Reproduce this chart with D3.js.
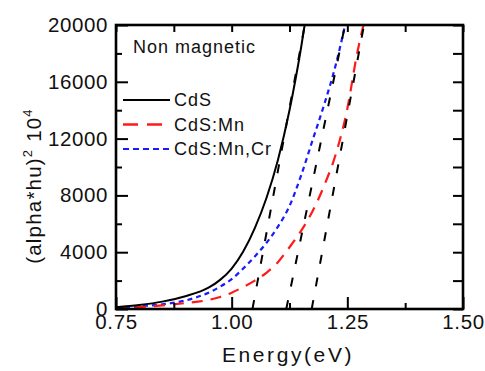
<!DOCTYPE html>
<html>
<head>
<meta charset="utf-8">
<script src="https://cdn.jsdelivr.net/npm/d3@7"></script>
<style>
    html, body { margin: 0; padding: 0; background: #fff; }
    svg { display: block; font-family: "Liberation Sans", Arial, sans-serif; }
</style>
</head>
<body>
<div id="chart-div"></div>
<script>
// energy (eV) and (alpha*hu)^2 values
var energyCdS   = [0.75, 0.80, 0.85, 0.90, 0.95, 0.975, 1.00, 1.025, 1.05, 1.075, 1.10, 1.125, 1.15, 1.165];
var valuesCdS   = [120, 280, 520, 900, 1500, 2050, 2850, 4050, 5700, 7800, 10500, 14000, 18400, 21500];

var energyMn    = [0.75, 0.80, 0.85, 0.90, 0.95, 0.975, 1.00, 1.025, 1.05, 1.075, 1.10, 1.125, 1.15, 1.175, 1.20, 1.225, 1.25, 1.27, 1.29];
var valuesMn    = [60, 130, 250, 420, 640, 850, 1150, 1550, 2000, 2550, 3300, 4350, 5500, 6900, 8700, 10900, 14100, 17800, 20700];

var energyMnCr  = [0.75, 0.80, 0.85, 0.90, 0.95, 0.975, 1.00, 1.025, 1.05, 1.075, 1.10, 1.125, 1.15, 1.175, 1.20, 1.225, 1.25];
var valuesMnCr  = [80, 200, 330, 600, 1150, 1570, 2100, 2850, 3700, 4650, 5800, 7250, 9400, 11900, 14400, 17200, 20700];

// linear fits: [energy at 0, energy at 20000]
var tangentCdS  = [1.045, 1.158];
var tangentMn   = [1.173, 1.286];
var tangentMnCr = [1.118, 1.245];

var xMajorTicks = [0.75, 1.00, 1.25, 1.50];
var xMinorTicks = [0.875, 1.125, 1.375];
var yMajorTicks = [0, 4000, 8000, 12000, 16000, 20000];
var yMinorTicks = [2000, 6000, 10000, 14000, 18000];

var legendNames = ['CdS', 'CdS:Mn', 'CdS:Mn,Cr'];
var legendTitle = 'Non magnetic';

(function () {
    'use strict';

    var _width = 485;
    var _height = 371;
    var _left = 116, _right = 463, _top = 25, _bottom = 309;

    var x = d3.scaleLinear().domain([0.75, 1.5]).range([_left, _right]);
    var y = d3.scaleLinear().domain([0, 20000]).range([_bottom, _top]);

    var svg = d3.select('#chart-div').append('svg')
        .attr('width', _width)
        .attr('height', _height);

    svg.append('clipPath').attr('id', 'plot-clip')
        .append('rect')
        .attr('x', _left).attr('y', _top)
        .attr('width', _right - _left).attr('height', _bottom - _top);

    var plot = svg.append('g').attr('clip-path', 'url(#plot-clip)');

    var series = [
        { e: energyMnCr, v: valuesMnCr, color: '#1a1aff', dash: '5,4', width: 2.2 },
        { e: energyMn, v: valuesMn, color: '#ff1a1a', dash: '11,8', width: 2.2 },
        { e: energyCdS, v: valuesCdS, color: '#000', dash: null, width: 2 }
    ];

    var line = d3.line()
        .x(function (d) { return x(d[0]); })
        .y(function (d) { return y(d[1]); })
        .curve(d3.curveMonotoneX);

    series.forEach(function (s) {
        var pts = s.e.map(function (e, i) { return [e, s.v[i]]; });
        plot.append('path')
            .attr('d', line(pts))
            .attr('fill', 'none')
            .attr('stroke', s.color)
            .attr('stroke-width', s.width)
            .attr('stroke-dasharray', s.dash);
    });

    [tangentCdS, tangentMnCr, tangentMn].forEach(function (t) {
        plot.append('line')
            .attr('x1', x(t[0])).attr('y1', y(0))
            .attr('x2', x(t[1])).attr('y2', y(20000))
            .attr('stroke', '#000')
            .attr('stroke-width', 2)
            .attr('stroke-dasharray', '9,14');
    });

    // axes, ticks point inward
    function styleAxis (g) {
        g.select('.domain').remove();
        g.selectAll('line').attr('stroke', '#000').attr('stroke-width', 2);
        g.selectAll('text')
            .attr('fill', '#111')
            .style('font-family', '"Liberation Sans", Arial, sans-serif')
            .style('font-size', '20.5px')
            .style('letter-spacing', '0.6px');
    }

    svg.append('g')
        .attr('transform', 'translate(0,' + _bottom + ')')
        .call(d3.axisBottom(x).tickValues(xMajorTicks).tickSize(-12).tickPadding(5).tickFormat(d3.format('.2f')))
        .call(styleAxis);
    svg.append('g')
        .attr('transform', 'translate(0,' + _bottom + ')')
        .call(d3.axisBottom(x).tickValues(xMinorTicks).tickSize(-6).tickFormat(''))
        .call(styleAxis);
    svg.append('g')
        .attr('transform', 'translate(0,' + _top + ')')
        .call(d3.axisTop(x).tickValues(xMajorTicks.concat(xMinorTicks)).tickSize(-7).tickFormat(''))
        .call(styleAxis);

    svg.append('g')
        .attr('transform', 'translate(' + _left + ',0)')
        .call(d3.axisLeft(y).tickValues(yMajorTicks).tickSize(-12).tickPadding(8).tickFormat(d3.format('d')))
        .call(styleAxis);
    svg.append('g')
        .attr('transform', 'translate(' + _left + ',0)')
        .call(d3.axisLeft(y).tickValues(yMinorTicks).tickSize(-6).tickFormat(''))
        .call(styleAxis);
    svg.append('g')
        .attr('transform', 'translate(' + _right + ',0)')
        .call(d3.axisRight(y).tickValues(yMajorTicks.concat(yMinorTicks)).tickSize(-10).tickFormat(''))
        .call(styleAxis);

    svg.append('rect')
        .attr('x', _left).attr('y', _top)
        .attr('width', _right - _left).attr('height', _bottom - _top)
        .attr('fill', 'none')
        .attr('stroke', '#000')
        .attr('stroke-width', 2.6);

    // axis titles
    svg.append('text')
        .attr('x', 288).attr('y', 362)
        .attr('text-anchor', 'middle')
        .attr('fill', '#111')
        .style('font-size', '21px')
        .style('letter-spacing', '2.6px')
        .text('Energy(eV)');

    var ylab = svg.append('text')
        .attr('transform', 'translate(41,186) rotate(-90)')
        .attr('text-anchor', 'middle')
        .attr('fill', '#111')
        .style('font-size', '20.5px')
        .style('letter-spacing', '1.2px');
    ylab.append('tspan').text('(alpha*hu)');
    ylab.append('tspan').attr('dy', -9).style('font-size', '13px').text('2');
    ylab.append('tspan').attr('dy', 9).text(' 10');
    ylab.append('tspan').attr('dy', -9).style('font-size', '13px').text('4');

    // legend
    var legend = svg.append('g');
    legend.append('text')
        .attr('x', 133).attr('y', 53)
        .attr('fill', '#111')
        .style('font-size', '18px')
        .style('letter-spacing', '1px')
        .text(legendTitle);

    var legendStyles = [
        { color: '#000', dash: null, width: 2 },
        { color: '#ff1a1a', dash: '15,9', width: 2.4 },
        { color: '#1a1aff', dash: '6,4', width: 2.2 }
    ];
    var legendY = [100, 124.5, 149];

    legendNames.forEach(function (name, i) {
        var st = legendStyles[i];
        legend.append('line')
            .attr('x1', 123).attr('x2', 170)
            .attr('y1', legendY[i]).attr('y2', legendY[i])
            .attr('stroke', st.color)
            .attr('stroke-width', st.width)
            .attr('stroke-dasharray', st.dash);
        legend.append('text')
            .attr('x', 174).attr('y', legendY[i] + 6)
            .attr('fill', '#111')
            .style('font-size', '18px')
            .style('letter-spacing', '1px')
            .text(name);
    });
})();
</script>
</body>
</html>
